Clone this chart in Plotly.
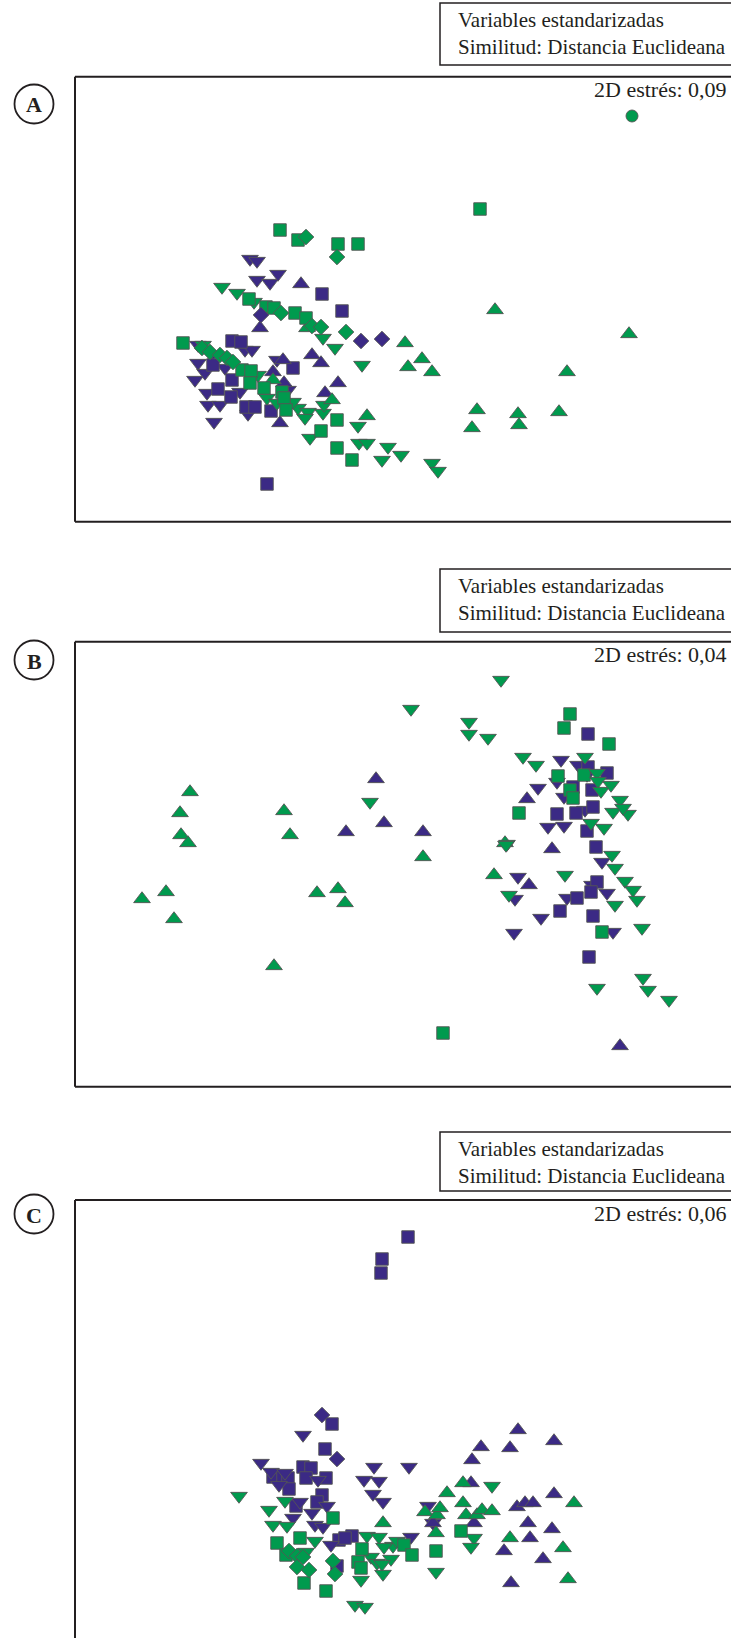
import plotly.graph_objects as go

W, H = 731, 1638
GREEN = "#009a4e"
PURPLE = "#3b2a85"
EDGE = "#555555"
FONT = "Liberation Serif"

# ---------------- Panel A (nMDS, stress 0.09) ----------------
A_gs_x = [-1.20, -1.02, -0.62, -0.42, 0.80, -1.51, -1.34, -1.26, -1.05, -0.94, -2.17, -1.58, -1.49, -1.50, -1.36, -1.18, -1.16, -1.14, -0.63, -0.79, -0.63, -0.48]
A_gs_y = [0.70, 0.60, 0.56, 0.56, 0.91, 0.01, -0.07, -0.08, -0.13, -0.18, -0.43, -0.70, -0.71, -0.83, -0.88, -0.92, -0.98, -1.10, -1.20, -1.31, -1.48, -1.60]
A_gd_x = [-0.94, -0.63, -1.19, -0.88, -0.79, -0.54, -1.98, -1.90, -1.80, -1.73, -1.67]
A_gd_y = [0.63, 0.43, -0.13, -0.26, -0.27, -0.32, -0.48, -0.52, -0.55, -0.58, -0.62]
A_pd_x = [-0.39, -0.18, -1.39]
A_pd_y = [-0.41, -0.39, -0.15]
A_ps_x = [-0.78, -0.58, -1.07, -1.33, -1.68, -1.87, -1.68, -1.82, -1.69, -1.54, -1.45, -1.29, -1.59]
A_ps_y = [0.06, -0.11, -0.68, -1.84, -0.41, -0.65, -0.80, -0.89, -0.97, -1.07, -1.07, -1.11, -0.42]
A_pu_x = [-0.99, -1.40, -0.88, -0.79, -0.62, -0.75, -1.20, -1.17, -1.27, -1.16]
A_pu_y = [0.16, -0.28, -0.55, -0.63, -0.83, -0.93, -1.23, -0.60, -0.72, -0.83]
A_pdn_x = [-1.50, -1.43, -1.43, -1.30, -1.22, -2.02, -1.55, -1.48, -2.02, -2.05, -1.95, -1.93, -1.92, -1.80, -1.86, -1.52, -1.60, -1.23, -1.12, -1.88, -1.75]
A_pdn_y = [0.41, 0.39, 0.20, 0.17, 0.26, -0.45, -0.50, -0.50, -0.63, -0.80, -0.73, -0.93, -1.05, -1.05, -1.22, -1.14, -0.92, -0.60, -0.90, -0.55, -0.68]
A_gdn_x = [-1.78, -1.63, -1.46, -0.77, -0.65, -0.38, -0.42, -0.18, -0.41, -0.33, -0.12, 0.01, 0.32, 0.38, -0.90, -1.02, -0.92, -0.77, -0.76, -1.33, -1.23, -1.42, -0.95, -1.97, -1.07]
A_gdn_y = [0.13, 0.07, -0.02, -0.38, -0.48, -0.65, -1.26, -1.60, -1.43, -1.43, -1.47, -1.55, -1.63, -1.71, -1.38, -1.08, -1.12, -1.13, -1.05, -0.98, -1.03, -0.75, -1.18, -0.45, -1.02]
A_gu_x = [0.05, 0.22, 0.08, 0.32, -0.33, -0.68, 0.95, 2.29, 1.67, 0.77, 0.72, 1.18, 1.19, 1.59, -0.93, -1.27]
A_gu_y = [-0.43, -0.59, -0.67, -0.72, -1.16, -1.00, -0.10, -0.34, -0.72, -1.10, -1.28, -1.14, -1.25, -1.12, -0.28, -0.80]
A_gc_x = [2.32]
A_gc_y = [1.84]

# ---------------- Panel B (nMDS, stress 0.04) ----------------
B_gu_x = [-2.10, -2.20, -2.19, -2.12, -1.16, -1.10, -2.34, -2.58, -2.26, -0.83, -0.62, -0.55, -1.26, 0.23, 0.94, 1.05]
B_gu_y = [0.73, 0.52, 0.30, 0.22, 0.54, 0.30, -0.27, -0.34, -0.54, -0.28, -0.24, -0.38, -1.01, 0.08, -0.10, 0.22]
B_pu_x = [-0.24, -0.16, -0.54, 0.23, 1.27, 1.52, 1.29, 2.20]
B_pu_y = [0.86, 0.42, 0.33, 0.33, 0.66, 0.16, -0.20, -1.81]
B_gdn_x = [1.01, 0.11, 0.69, 0.69, 0.88, 1.23, 1.36, 1.85, 1.97, 1.98, 2.01, 2.11, 2.20, 2.13, 2.28, 2.23, 1.91, 2.04, -0.30, 1.07, 2.12, 2.15, 1.65, 2.25, 2.33, 2.37, 2.15, 1.09, 2.42, 1.97, 2.43, 2.48, 2.69, 1.06]
B_gdn_y = [1.85, 1.56, 1.43, 1.31, 1.27, 1.08, 1.00, 1.08, 0.92, 0.84, 0.74, 0.80, 0.65, 0.53, 0.51, 0.57, 0.42, 0.37, 0.63, 0.21, 0.10, -0.03, -0.10, -0.16, -0.25, -0.35, -0.40, -0.30, -0.63, -1.23, -1.13, -1.25, -1.35, 0.20]
B_pdn_x = [1.61, 1.78, 1.57, 1.38, 1.64, 1.85, 1.48, 1.64, 2.02, 1.18, 1.15, 1.67, 1.92, 2.07, 1.41, 1.14, 2.13, 1.87]
B_pdn_y = [1.05, 1.00, 0.83, 0.77, 0.68, 0.55, 0.38, 0.39, 0.03, -0.12, -0.34, -0.33, -0.20, -0.28, -0.53, -0.68, -0.67, 0.90]
B_ps_x = [1.88, 1.88, 2.07, 1.73, 1.92, 1.93, 1.76, 1.57, 1.87, 1.96, 1.97, 1.91, 1.77, 1.60, 1.93, 1.89]
B_ps_y = [1.31, 0.98, 0.92, 0.78, 0.75, 0.58, 0.52, 0.51, 0.34, 0.18, -0.17, -0.27, -0.33, -0.46, -0.51, -0.92]
B_gs_x = [1.70, 1.64, 2.09, 1.58, 1.84, 1.70, 1.73, 1.19, 2.02, 0.43]
B_gs_y = [1.51, 1.37, 1.21, 0.89, 0.90, 0.75, 0.67, 0.52, -0.67, -1.68]

# ---------------- Panel C (nMDS, stress 0.06) ----------------
C_ps_x = [0.08, -0.18, -0.19, -0.68, -0.75, -0.97, -0.89, -1.27, -1.17, -1.12, -0.94, -0.74, -1.11, -0.78, -0.83, -1.04, -0.61, -0.48, -0.55, -0.63]
C_ps_y = [1.86, 1.64, 1.50, -0.01, -0.26, -0.44, -0.45, -0.54, -0.54, -0.55, -0.55, -0.55, -0.66, -0.72, -0.79, -0.83, -1.17, -1.13, -1.15, -1.43]
C_pd_x = [-0.78, -0.63]
C_pd_y = [0.08, -0.36]
C_pdn_x = [-0.97, -1.39, -1.29, -1.21, -0.82, -1.00, -1.07, -0.88, -0.85, -0.77, -0.73, -0.69, -0.26, -0.36, -0.21, -0.27, -0.17, 0.09, 0.11, 0.28, 0.33, -1.15]
C_pdn_y = [-0.12, -0.40, -0.49, -0.62, -0.57, -0.79, -0.95, -0.90, -1.02, -1.04, -0.83, -1.22, -0.44, -0.57, -0.58, -0.71, -0.79, -0.44, -1.14, -0.83, -1.00, -0.50]
C_gdn_x = [-1.61, -1.31, -1.15, -1.27, -1.13, -0.85, -0.33, -0.21, -0.07, -0.16, -0.03, -0.09, -0.29, -0.23, -0.18, -0.17, -0.39, -0.94, -0.45, -0.35, 0.36, 0.74, 0.71, 0.92]
C_gdn_y = [-0.73, -0.87, -0.78, -1.02, -1.03, -1.18, -1.13, -1.14, -1.23, -1.24, -1.18, -1.36, -1.34, -1.40, -1.41, -1.51, -1.57, -1.29, -1.82, -1.84, -1.49, -1.15, -1.24, -0.63]
C_gs_x = [-1.23, -1.00, -1.14, -0.96, -0.74, -0.67, -0.38, -0.42, -0.39, 0.04, 0.12, 0.36, 0.61]
C_gs_y = [-1.20, -1.15, -1.32, -1.60, -1.68, -0.95, -1.26, -1.39, -1.45, -1.22, -1.32, -1.28, -1.08]
C_gd_x = [-1.11, -1.03, -0.97, -1.03, -0.91, -0.67, -0.65]
C_gd_y = [-1.28, -1.33, -1.34, -1.44, -1.47, -1.38, -1.51]
C_gu_x = [-0.17, 0.47, 0.63, 0.25, 0.37, 0.40, 0.36, 0.63, 0.66, 0.77, 0.82, 0.92, 1.10, 1.63, 1.74, 1.68]
C_gu_y = [-1.00, -0.70, -0.60, -0.89, -0.92, -0.85, -1.10, -0.80, -0.92, -0.92, -0.87, -0.88, -1.15, -1.25, -0.80, -1.56]
C_pu_x = [1.18, 1.54, 0.81, 1.10, 0.72, 0.71, 1.54, 1.17, 1.25, 1.33, 1.28, 1.52, 1.30, 1.04, 0.33, 0.74, 1.43, 1.11]
C_pu_y = [-0.07, -0.18, -0.24, -0.25, -0.37, -0.60, -0.71, -0.84, -0.80, -0.80, -1.00, -1.06, -1.15, -1.28, -1.00, -1.00, -1.36, -1.60]

STRESS = ["2D estrés: 0,09", "2D estrés: 0,04", "2D estrés: 0,06"]
PANEL_LABELS = ["A", "B", "C"]
HEADER_LINES = ["Variables estandarizadas", "Similitud: Distancia Euclideana"]

SYMBOL_SIZE = {"square": 12.5, "diamond": 12, "triangle-up": 14.5, "triangle-down": 14.5, "circle": 12}

panels = [
    [  # A
        (A_pdn_x, A_pdn_y, "triangle-down", PURPLE),
        (A_ps_x, A_ps_y, "square", PURPLE),
        (A_pu_x, A_pu_y, "triangle-up", PURPLE),
        (A_gdn_x, A_gdn_y, "triangle-down", GREEN),
        (A_gu_x, A_gu_y, "triangle-up", GREEN),
        (A_gs_x, A_gs_y, "square", GREEN),
        (A_gd_x, A_gd_y, "diamond", GREEN),
        (A_pd_x, A_pd_y, "diamond", PURPLE),
        (A_gc_x, A_gc_y, "circle", GREEN),
    ],
    [  # B
        (B_gu_x, B_gu_y, "triangle-up", GREEN),
        (B_pu_x, B_pu_y, "triangle-up", PURPLE),
        (B_pdn_x, B_pdn_y, "triangle-down", PURPLE),
        (B_ps_x, B_ps_y, "square", PURPLE),
        (B_gs_x, B_gs_y, "square", GREEN),
        (B_gdn_x, B_gdn_y, "triangle-down", GREEN),
    ],
    [  # C
        (C_ps_x, C_ps_y, "square", PURPLE),
        (C_pdn_x, C_pdn_y, "triangle-down", PURPLE),
        (C_pd_x, C_pd_y, "diamond", PURPLE),
        (C_pu_x, C_pu_y, "triangle-up", PURPLE),
        (C_gu_x, C_gu_y, "triangle-up", GREEN),
        (C_gdn_x, C_gdn_y, "triangle-down", GREEN),
        (C_gs_x, C_gs_y, "square", GREEN),
        (C_gd_x, C_gd_y, "diamond", GREEN),
    ],
]

# layout geometry (pixels)
BOX_LEFT = 75
PANEL_TOP = [76.7, 641.7, 1200.0]
PANEL_BOTTOM = [521.7, 1086.7, 1645.0]
HEAD_TOP = [3.0, 569.0, 1132.0]
HEAD_BOTTOM = [65.0, 632.0, 1191.0]
LABEL_CY = [104, 660, 1214]
X_RANGE = [-3.25, 3.31]
Y_CENTER_PX = [300.0, 865.0, 1423.0]


def px(x):
    return x / W


def py(y):
    return 1 - y / H


fig = go.Figure()
shapes = []
annotations = []
ink = "#231f20"

for i, series in enumerate(panels):
    n = "" if i == 0 else str(i + 1)
    for xs, ys, sym, col in series:
        fig.add_trace(go.Scatter(
            x=xs, y=ys, mode="markers", xaxis="x" + n, yaxis="y" + n,
            marker=dict(symbol=sym, size=SYMBOL_SIZE[sym], color=col,
                        line=dict(color=EDGE, width=0.9)),
            showlegend=False, hoverinfo="x+y"))
    top, bot = PANEL_TOP[i], min(PANEL_BOTTOM[i], H)
    yr = [(Y_CENTER_PX[i] - bot) / 100, (Y_CENTER_PX[i] - top) / 100]
    fig.layout["xaxis" + n] = dict(domain=[px(BOX_LEFT), 1], range=X_RANGE, visible=False,
                                   fixedrange=True, anchor="y" + n)
    fig.layout["yaxis" + n] = dict(domain=[py(bot), py(top)], range=yr, visible=False,
                                   fixedrange=True, anchor="x" + n)

    line = dict(color=ink, width=2)
    # plot frame (its right side lies outside the page)
    shapes.append(dict(type="line", xref="paper", yref="paper", x0=px(BOX_LEFT), x1=1.05,
                       y0=py(PANEL_TOP[i]), y1=py(PANEL_TOP[i]), line=line))
    shapes.append(dict(type="line", xref="paper", yref="paper", x0=px(BOX_LEFT), x1=px(BOX_LEFT),
                       y0=py(PANEL_TOP[i]), y1=py(PANEL_BOTTOM[i]), line=line))
    if PANEL_BOTTOM[i] < H:
        shapes.append(dict(type="line", xref="paper", yref="paper", x0=px(BOX_LEFT), x1=1.05,
                           y0=py(PANEL_BOTTOM[i]), y1=py(PANEL_BOTTOM[i]), line=line))
    # header box
    shapes.append(dict(type="rect", xref="paper", yref="paper", x0=px(440), x1=1.05,
                       y0=py(HEAD_BOTTOM[i]), y1=py(HEAD_TOP[i]),
                       line=dict(color=ink, width=1.5), fillcolor="rgba(0,0,0,0)"))
    for k, txt in enumerate(HEADER_LINES):
        annotations.append(dict(xref="paper", yref="paper", x=px(456),
                                y=py(HEAD_TOP[i] + 17 + 27 * k),
                                xanchor="left", yanchor="middle", align="left", showarrow=False,
                                text=txt, font=dict(family=FONT, size=21, color=ink)))
    # stress
    annotations.append(dict(xref="paper", yref="paper", x=px(729), y=py(PANEL_TOP[i] + 13),
                            xanchor="right", yanchor="middle", showarrow=False,
                            text=STRESS[i], font=dict(family=FONT, size=22, color=ink)))
    # panel letter in circle
    cy = LABEL_CY[i]
    shapes.append(dict(type="circle", xref="paper", yref="paper", x0=px(14.5), x1=px(53.5),
                       y0=py(cy + 19.5), y1=py(cy - 19.5), line=dict(color=ink, width=1.8)))
    annotations.append(dict(xref="paper", yref="paper", x=px(34), y=py(cy + 1),
                            xanchor="center", yanchor="middle", showarrow=False,
                            text="<b>" + PANEL_LABELS[i] + "</b>",
                            font=dict(family=FONT, size=22, color=ink)))

fig.update_layout(width=W, height=H, margin=dict(l=0, r=0, t=0, b=0),
                  paper_bgcolor="white", plot_bgcolor="white",
                  shapes=shapes, annotations=annotations, showlegend=False)

fig.write_html("out.html", config={"displayModeBar": False})
